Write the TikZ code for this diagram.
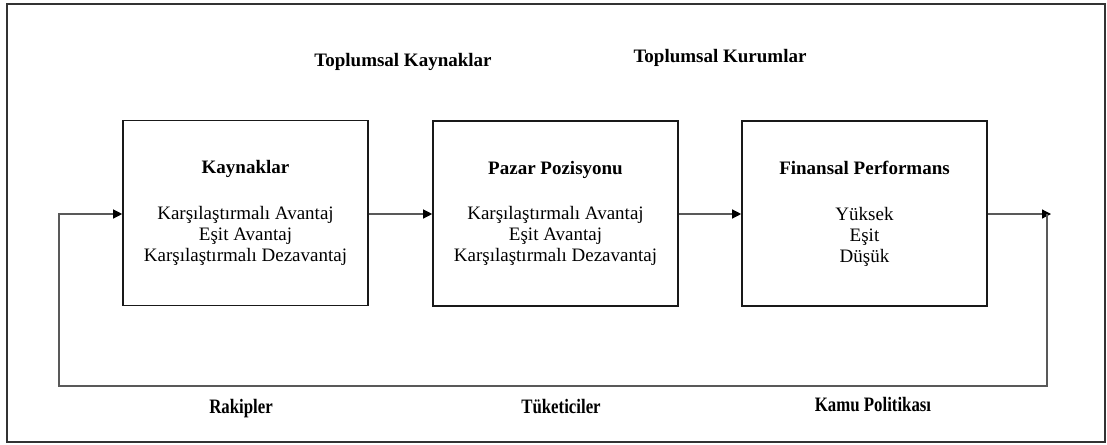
\documentclass[tikz,border=0pt]{standalone}
\usepackage{fontspec}
\setmainfont{Liberation Serif}
\usetikzlibrary{arrows.meta}
\begin{document}
\begin{tikzpicture}[x=1pt,y=-1pt,
  frame/.style={draw=black!80, line width=2pt},
  stage/.style={draw=black!90, line width=1.6pt, minimum width=245pt, minimum height=185pt,
    inner sep=0pt, align=center, font=\fontsize{19}{21}\selectfont},
  link/.style={draw=black!65, line width=1.2pt},
  arrow/.style={link, -{Triangle[length=9pt,width=9pt,color=black]}},
  toplabel/.style={font=\fontsize{19}{21}\selectfont\bfseries},
  botlabel/.style={font=\fontsize{20.5}{22}\selectfont\bfseries}
]
\useasboundingbox (0,0) rectangle (1107,444);
\draw[frame] (7,4) rectangle (1105,442);

% the three stages
\node[stage] (res) at (245.5,213) {\textbf{Kaynaklar}\\[25pt]
  Karşılaştırmalı Avantaj\\ Eşit Avantaj\\ Karşılaştırmalı Dezavantaj};
\node[stage] (pos) at (555.5,213.5) {\textbf{Pazar Pozisyonu}\\[24pt]
  Karşılaştırmalı Avantaj\\ Eşit Avantaj\\ Karşılaştırmalı Dezavantaj};
\node[stage] (fin) at (864.5,213.5) {\textbf{Finansal Performans}\\[25pt]
  Yüksek\\ Eşit\\ Düşük};

% environment labels
\node[toplabel] (sk) at (403,62) {Toplumsal Kaynaklar};
\node[toplabel] (sc) at (720,58) {Toplumsal Kurumlar};
\node[botlabel] (rk) at (241,409) {\scalebox{0.82}[1]{Rakipler}};
\node[botlabel] (tk) at (561,407) {\scalebox{0.82}[1]{Tüketiciler}};
\node[botlabel] (kp) at (873,405) {\scalebox{0.82}[1]{Kamu Politikası}};

% flow between stages
\coordinate (out) at (1051,214);
\coordinate (loopR) at (1047,214);
\coordinate (loopBR) at (1047,386);
\coordinate (loopBL) at (59,386);
\coordinate (loopL) at (59,214);
\draw[arrow] (res.east |- 0,214) -- (pos.west |- 0,214);
\draw[arrow] (pos.east |- 0,214) -- (fin.west |- 0,214);
\draw[arrow] (fin.east |- 0,214) -- (out);
\draw[arrow] (loopR) -- (loopBR) -- (loopBL) -- (loopL) -- (res.west |- 0,214);
\end{tikzpicture}
\end{document}
